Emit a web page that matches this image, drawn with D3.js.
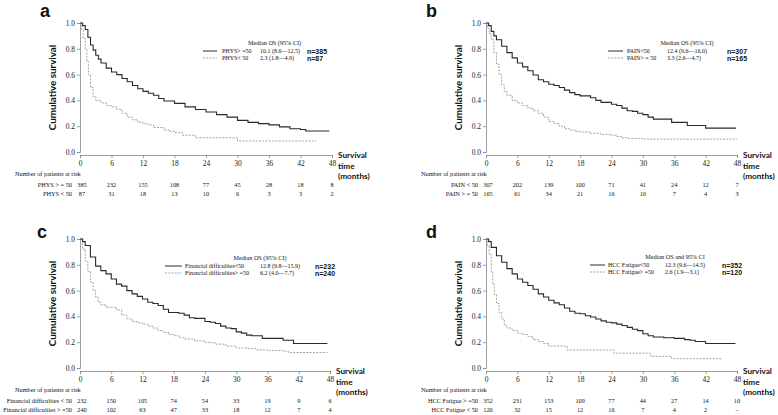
<!DOCTYPE html>
<html>
<head>
<meta charset="utf-8">
<script src="https://cdn.jsdelivr.net/npm/d3@7"></script>
<style>
  body { margin: 0; background: #fff; }
  svg { display: block; }
  text { fill: #111; }
  .tick text { font-family: 'Liberation Serif', serif; font-size: 7.5px; fill: #222; }
  .km-axis path, .km-axis line { stroke: #888; stroke-width: 0.8; }
</style>
</head>
<body>
<div id="chart"></div>
<script>
const width = 778;
const height = 415;

// Axis ticks
const timeTicks = [0, 6, 12, 18, 24, 30, 36, 42, 48];
const survTicks = [0, 0.2, 0.4, 0.6, 0.8, 1.0];

// Panel a: PHYS
const aHighT = [0, 0.5, 1, 1.5, 2, 2.5, 3, 3.5, 4, 5, 6, 7, 8, 9, 10, 11, 12, 13, 14, 15, 16, 18, 20, 22, 24, 26, 28, 30, 32, 34, 36, 38, 40, 42, 43, 47.5];
const aHighS = [1, 0.98, 0.95, 0.89, 0.83, 0.79, 0.75, 0.72, 0.69, 0.65, 0.62, 0.60, 0.57, 0.545, 0.515, 0.49, 0.47, 0.455, 0.44, 0.415, 0.395, 0.377, 0.35, 0.33, 0.31, 0.29, 0.27, 0.245, 0.23, 0.22, 0.21, 0.195, 0.18, 0.175, 0.163, 0.163];
const aLowT = [0, 0.3, 0.6, 1, 1.3, 1.6, 2, 2.5, 3, 4, 5, 6, 7, 8, 9, 10, 11, 12, 13, 14, 16, 17, 18, 19.5, 22, 30, 45];
const aLowS = [1, 0.95, 0.88, 0.8, 0.7, 0.6, 0.5, 0.43, 0.40, 0.38, 0.36, 0.35, 0.33, 0.30, 0.27, 0.25, 0.23, 0.22, 0.21, 0.19, 0.17, 0.16, 0.15, 0.13, 0.11, 0.085, 0.085];
const aLegend = ['PHYS> =50', 'PHYS< 50'];
const aMedian = ['10.1 (8.6\u201412.5)', '2.3 (1.8\u20144.9)'];
const aN = ['n=385', 'n=87'];
const aRiskLabels = ['PHYS > = 50', 'PHYS < 50'];
const aRiskHigh = [385, 232, 155, 108, 77, 45, 28, 18, 8];
const aRiskLow = [87, 31, 18, 13, 10, 6, 3, 3, 2];

// Panel b: PAIN
const bLowPainT = [0, 0.5, 1, 1.5, 2, 3, 4, 5, 6, 7, 8, 9, 10, 11, 12, 13, 14, 15, 16, 17, 18, 20, 21, 22, 24, 25, 26, 27, 28, 29, 30, 31, 32, 35.5, 38.5, 42, 47.8];
const bLowPainS = [1, 0.98, 0.935, 0.9, 0.87, 0.82, 0.77, 0.73, 0.69, 0.66, 0.63, 0.597, 0.56, 0.545, 0.525, 0.515, 0.50, 0.48, 0.46, 0.445, 0.435, 0.42, 0.40, 0.385, 0.37, 0.36, 0.34, 0.32, 0.315, 0.30, 0.29, 0.27, 0.255, 0.23, 0.205, 0.185, 0.185];
const bHighPainT = [0, 0.3, 0.6, 1, 1.5, 2, 2.5, 3, 3.5, 4, 5, 6, 7, 8, 9, 10, 11, 12, 13, 14, 15, 16, 17, 18, 20, 22, 24, 25, 26, 27, 30, 48];
const bHighPainS = [1, 0.96, 0.92, 0.87, 0.77, 0.68, 0.6, 0.52, 0.47, 0.44, 0.40, 0.38, 0.36, 0.34, 0.32, 0.30, 0.27, 0.235, 0.22, 0.20, 0.18, 0.17, 0.16, 0.155, 0.145, 0.135, 0.13, 0.12, 0.11, 0.105, 0.10, 0.10];
const bLegend = ['PAIN<50', 'PAIN> = 50'];
const bMedian = ['12.4 (9.6\u201416.0)', '3.3 (2.6\u20144.7)'];
const bN = ['n=307', 'n=165'];
const bRiskLabels = ['PAIN < 50', 'PAIN > = 50'];
const bRiskLow = [307, 202, 139, 100, 71, 41, 24, 12, 7];
const bRiskHigh = [165, 61, 34, 21, 16, 10, 7, 4, 3];

// Panel c: Financial difficulties
const cLowT = [0, 0.5, 1, 2, 3, 4, 5, 6, 7, 8, 9, 10, 11, 12, 13, 14, 15, 16, 17, 19, 20, 21, 22, 24, 25, 26, 27, 28, 29, 30, 31, 32, 33, 35, 39, 41, 47.5];
const cLowS = [1, 0.98, 0.95, 0.86, 0.79, 0.755, 0.73, 0.69, 0.65, 0.635, 0.60, 0.575, 0.555, 0.535, 0.51, 0.50, 0.485, 0.455, 0.43, 0.425, 0.41, 0.39, 0.385, 0.36, 0.355, 0.345, 0.325, 0.31, 0.305, 0.28, 0.27, 0.255, 0.25, 0.23, 0.215, 0.19, 0.19];
const cHighT = [0, 0.5, 1, 1.5, 2, 2.5, 3, 3.5, 4, 5, 6, 7, 8, 9, 10, 11, 12, 13, 14, 15, 16, 17, 18, 19, 20, 22, 24, 25, 26, 28, 30, 32, 34, 36, 39, 40, 47.5];
const cHighS = [1, 0.92, 0.83, 0.75, 0.665, 0.6, 0.55, 0.51, 0.49, 0.47, 0.47, 0.45, 0.41, 0.38, 0.36, 0.35, 0.34, 0.325, 0.31, 0.29, 0.275, 0.26, 0.25, 0.235, 0.225, 0.21, 0.20, 0.195, 0.185, 0.17, 0.155, 0.15, 0.14, 0.135, 0.13, 0.12, 0.12];
const cLegend = ['Financial difficulties<50', 'Financial difficulties> =50'];
const cMedian = ['12.8 (9.8\u201415.9)', '6.2 (4.0\u20147.7)'];
const cN = ['n=232', 'n=240'];
const cRiskLabels = ['Financial difficulties < 50', 'Financial difficulties > =50'];
const cRiskLow = [232, 150, 105, 74, 54, 33, 19, 9, 6];
const cRiskHigh = [240, 102, 63, 47, 33, 18, 12, 7, 4];

// Panel d: HCC Fatigue
const dLowT = [0, 0.5, 1, 2, 3, 4, 5, 6, 7, 8, 9, 10, 11, 12, 13, 14, 15, 16, 17, 18, 19, 20, 21, 22, 23, 24, 25, 26, 27, 28, 29, 30, 31, 32, 34, 36, 38, 39, 40, 42, 47.7];
const dLowS = [1, 0.98, 0.935, 0.87, 0.82, 0.77, 0.73, 0.69, 0.665, 0.64, 0.61, 0.575, 0.55, 0.525, 0.505, 0.49, 0.465, 0.44, 0.425, 0.42, 0.405, 0.395, 0.38, 0.365, 0.355, 0.35, 0.34, 0.33, 0.315, 0.30, 0.29, 0.265, 0.25, 0.24, 0.235, 0.23, 0.22, 0.215, 0.205, 0.19, 0.19];
const dHighT = [0, 0.3, 0.6, 1, 1.3, 1.6, 2, 2.5, 3, 3.5, 4, 5, 6, 7, 8, 9, 10, 11, 12, 15.5, 24.5, 31.5, 35.5, 45];
const dHighS = [1, 0.95, 0.88, 0.74, 0.65, 0.57, 0.5, 0.43, 0.38, 0.33, 0.31, 0.29, 0.27, 0.26, 0.245, 0.22, 0.205, 0.19, 0.17, 0.14, 0.115, 0.09, 0.072, 0.072];
const dLegend = ['HCC Fatigue<50', 'HCC Fatigue> =50'];
const dMedian = ['12.3 (9.6\u201414.5)', '2.6 (1.9\u20143.1)'];
const dN = ['n=352', 'n=120'];
const dRiskLabels = ['HCC Fatigue > =50', 'HCC Fatigue < 50'];
const dRiskLow = ['352', '231', '153', '109', '77', '44', '27', '14', '10'];
const dRiskHigh = ['120', '32', '15', '12', '10', '7', '4', '2', '\u2013'];

const zip = (t, s) => t.map((v, i) => ({t: v, s: s[i]}));

const panels = [
  {letter: 'a', lx: 40, ly: 17, x0: 80, x1: 332, yTop: 23, yBot: 152, title: 'Median OS (95% CI)',
    solid: zip(aHighT, aHighS), dashed: zip(aLowT, aLowS), legend: aLegend, median: aMedian, n: aN,
    riskLabels: aRiskLabels, risk: [aRiskHigh, aRiskLow], legX: [123, 137, 142, 180, 227], legY: 20},
  {letter: 'b', lx: 426, ly: 17, x0: 486, x1: 737, yTop: 23, yBot: 152, title: 'Median OS (95% CI)',
    solid: zip(bLowPainT, bLowPainS), dashed: zip(bHighPainT, bHighPainS), legend: bLegend, median: bMedian, n: bN,
    riskLabels: bRiskLabels, risk: [bRiskLow, bRiskHigh], legX: [122, 137, 141, 181, 241], legY: 20},
  {letter: 'c', lx: 37, ly: 238, x0: 80, x1: 330, yTop: 239, yBot: 368, title: 'Median OS (95% CI)',
    solid: zip(cLowT, cLowS), dashed: zip(cHighT, cHighS), legend: cLegend, median: cMedian, n: cN,
    riskLabels: cRiskLabels, risk: [cRiskLow, cRiskHigh], legX: [85, 102, 105, 180, 235], legY: 19},
  {letter: 'd', lx: 426, ly: 238, x0: 486, x1: 737, yTop: 239, yBot: 368, title: 'Median OS and 95% CI',
    solid: zip(dLowT, dLowS), dashed: zip(dHighT, dHighS), legend: dLegend, median: dMedian, n: dN,
    riskLabels: dRiskLabels, risk: [dRiskLow, dRiskHigh], legX: [104, 119, 122, 179, 236], legY: 18}
];

const svg = d3.select('#chart').append('svg')
  .attr('width', width)
  .attr('height', height);

const serif = "'Liberation Serif', serif";
const sans = "Lato, 'Open Sans', sans-serif";

function drawPanel (p) {
  const x = d3.scaleLinear().domain([0, 48]).range([p.x0, p.x1]);
  const y = d3.scaleLinear().domain([0, 1]).range([p.yBot, p.yTop]);
  const g = svg.append('g');

  g.append('text')
    .attr('x', p.lx).attr('y', p.ly)
    .attr('font-family', "'Liberation Sans', Arial, sans-serif")
    .attr('font-weight', 'bold').attr('font-size', 18)
    .text(p.letter);

  g.append('g')
    .attr('class', 'km-axis')
    .attr('transform', `translate(${p.x0}, 0)`)
    .call(d3.axisLeft(y).tickValues(survTicks).tickSize(3).tickPadding(2)
      .tickFormat(d3.format('.1f')));

  g.append('g')
    .attr('class', 'km-axis')
    .attr('transform', `translate(0, ${p.yBot + 3})`)
    .call(d3.axisBottom(x).tickValues(timeTicks).tickSize(3).tickPadding(3));

  g.append('text')
    .attr('transform', `translate(${p.x0 - 24}, ${(p.yTop + p.yBot) / 2}) rotate(-90)`)
    .attr('text-anchor', 'middle')
    .attr('font-family', sans).attr('font-weight', 'bold').attr('font-size', 9.8)
    .text('Cumulative survival');

  // axis title on the right; kept narrow enough to stay inside the page
  ['Survival', 'time', '(months)'].forEach((s, i) => {
    g.append('text')
      .attr('x', x(48) + 6).attr('y', p.yBot + 6 + i * 10.5)
      .attr('font-family', sans).attr('font-weight', 'bold').attr('font-size', 8.2)
      .text(s);
  });

  const line = d3.line()
    .x(d => x(d.t))
    .y(d => y(d.s))
    .curve(d3.curveStepAfter);

  g.append('path')
    .datum(p.dashed)
    .attr('fill', 'none')
    .attr('stroke', '#9a9a9a')
    .attr('stroke-width', 0.9)
    .attr('stroke-dasharray', '2,1.3')
    .attr('d', line);

  g.append('path')
    .datum(p.solid)
    .attr('fill', 'none')
    .attr('stroke', '#2a2a2a')
    .attr('stroke-width', 1.1)
    .attr('d', line);

  // legend
  const ly0 = p.yTop + p.legY;
  const [lx0, lx1, ltx, lmx, lnx] = p.legX.map(v => p.x0 + v);
  g.append('text')
    .attr('x', (ltx + lnx) / 2 + 10).attr('y', ly0 + 2)
    .attr('text-anchor', 'middle')
    .attr('font-family', serif).attr('font-size', 6.2)
    .text(p.title);
  [0, 1].forEach(i => {
    const yy = ly0 + 8 + i * 7;
    g.append('line')
      .attr('x1', lx0).attr('x2', lx1).attr('y1', yy).attr('y2', yy)
      .attr('stroke', i === 0 ? '#2a2a2a' : '#9a9a9a')
      .attr('stroke-width', i === 0 ? 1 : 0.9)
      .attr('stroke-dasharray', i === 0 ? null : '2,1.3');
    g.append('text')
      .attr('x', ltx).attr('y', yy + 2)
      .attr('font-family', serif).attr('font-size', 6)
      .text(p.legend[i]);
    g.append('text')
      .attr('x', lmx).attr('y', yy + 2)
      .attr('font-family', serif).attr('font-size', 6)
      .text(p.median[i]);
    g.append('text')
      .attr('x', lnx).attr('y', yy + 2.5)
      .attr('font-family', "'Liberation Sans', Arial, sans-serif")
      .attr('font-weight', 'bold').attr('font-size', 7)
      .text(p.n[i]);
  });

  // number at risk
  g.append('text')
    .attr('x', p.x0 - 65).attr('y', p.yBot + 24)
    .attr('font-family', serif).attr('font-size', 6.3)
    .text('Number of patients at risk');
  p.risk.forEach((row, r) => {
    const yy = p.yBot + 34.5 + r * 9;
    g.append('text')
      .attr('x', p.x0 - 8).attr('y', yy)
      .attr('text-anchor', 'end')
      .attr('font-family', serif).attr('font-size', 6.3)
      .text(p.riskLabels[r]);
    g.selectAll(null)
      .data(row)
      .enter()
      .append('text')
        .attr('x', (d, i) => x(timeTicks[i]) + (i === 0 ? 2 : 0))
        .attr('y', yy)
        .attr('text-anchor', 'middle')
        .attr('font-family', serif).attr('font-size', 6.3)
        .text(d => d);
  });
}

panels.forEach(drawPanel);
</script>
</body>
</html>
